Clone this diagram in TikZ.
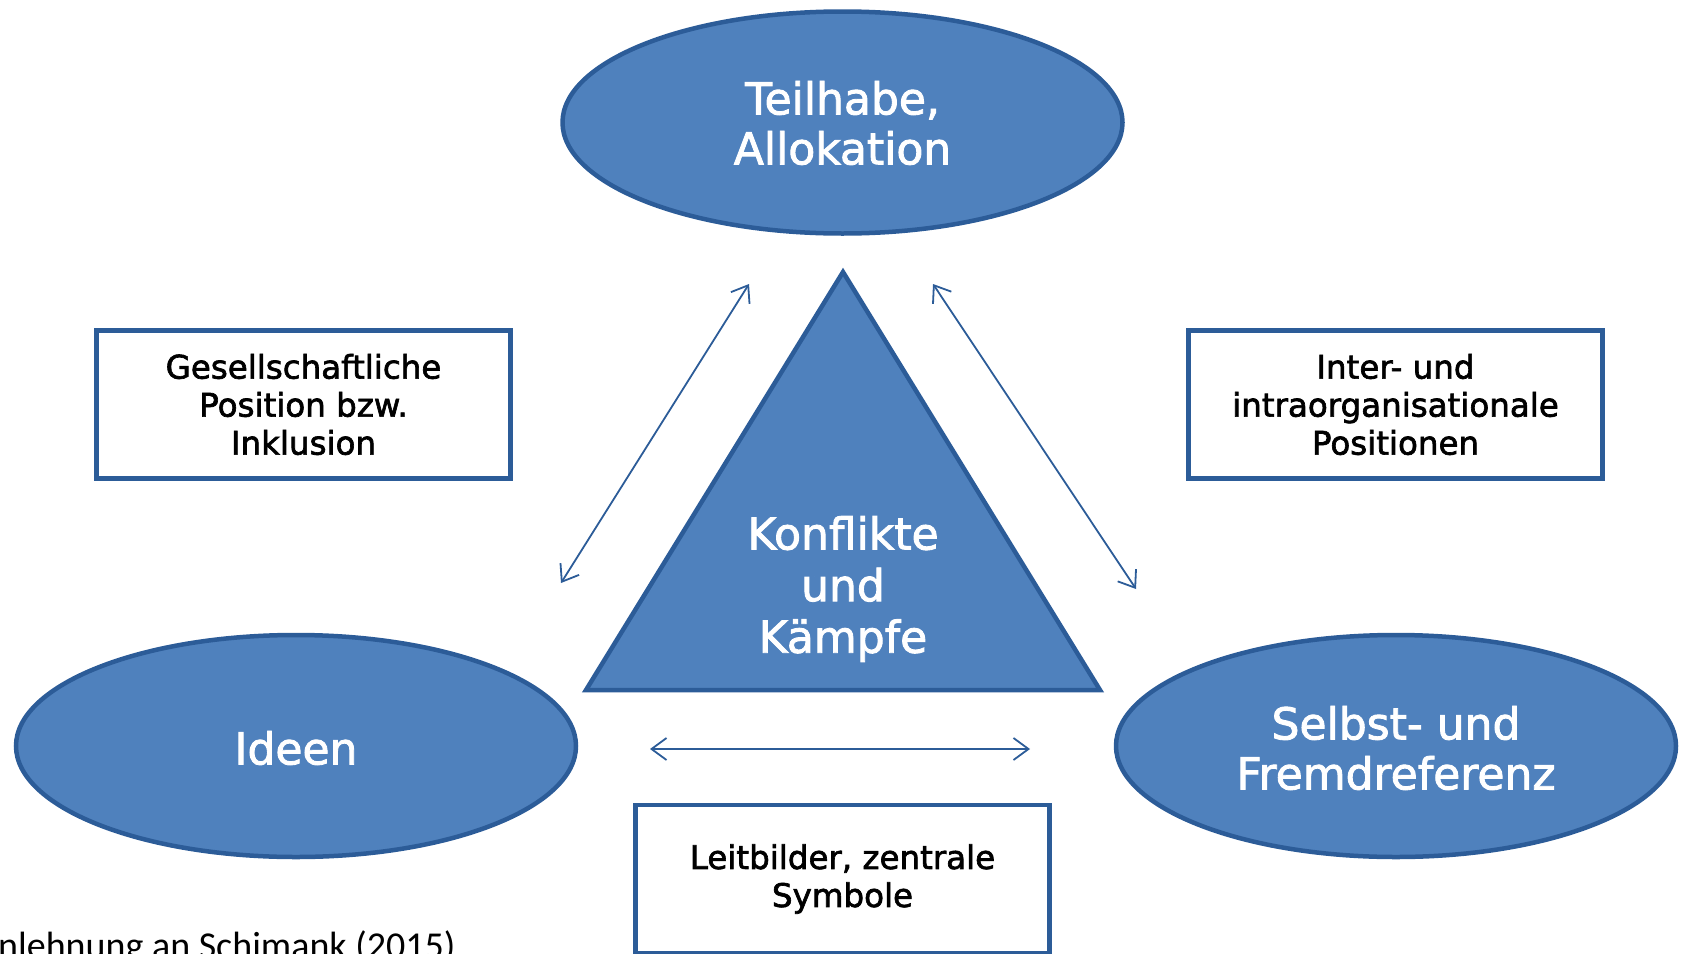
\documentclass[tikz,border=0pt]{standalone}
\usepackage{fontspec}
\setmainfont{DejaVu Sans}[FakeBold=2]
\newfontfamily\notefont{Carlito}
\usetikzlibrary{arrows.meta}
\definecolor{shapefill}{HTML}{4F81BD}
\definecolor{shapeline}{HTML}{2C5C98}
\tikzset{
  x=1pt, y=-1pt,
  blob/.style={draw=shapeline, fill=shapefill, line width=4.5pt},
  bigtext/.style={text=white, align=center, font=\fontsize{44}{50}\selectfont},
  labelbox/.style={draw=shapeline, line width=4.5pt, fill=white, minimum width=414pt, minimum height=148pt, align=center, font=\fontsize{32.5}{38}\selectfont, inner sep=0pt},
  twoway/.style={draw=shapeline, line width=1.8pt, {Straight Barb[length=15pt,width=22pt,line width=1.8pt]}-{Straight Barb[length=15pt,width=22pt,line width=1.8pt]}}
}
\begin{document}
\begin{tikzpicture}
\useasboundingbox (0,0) rectangle (1686,953);
\clip (0,0) rectangle (1686,953);
% ellipses
\draw[blob] (842.5,122.5) ellipse [x radius=280, y radius=111];
\node[bigtext] (top) at (842.5,123) {Teilhabe,\\Allokation};
\draw[blob] (296,746) ellipse [x radius=280, y radius=111];
\node[bigtext] (ideen) at (296,748) {Ideen};
\draw[blob] (1396,746) ellipse [x radius=280, y radius=111];
\node[bigtext] (selbst) at (1396,748) {Selbst- und\\Fremdreferenz};
% triangle
\draw[blob, line join=miter] (843,272) -- (1100,690) -- (586,690) -- cycle;
\node[bigtext, font=\fontsize{44}{51.6}\selectfont] (konf) at (843,589) {Konflikte\\und\\Kämpfe};
% boxes
\node[labelbox] (lbox) at (303.5,404.5) {Gesellschaftliche\\Position bzw.\\Inklusion};
\node[labelbox] (rbox) at (1395.5,404.5) {Inter- und\\intraorganisationale\\Positionen};
\node[labelbox] (bbox) at (842.5,879) {Leitbilder, zentrale\\Symbole};
% arrows
\coordinate (la1) at (749,284);
\coordinate (la2) at (561,583);
\coordinate (ra1) at (933,284);
\coordinate (ra2) at (1136,589);
\coordinate (ha1) at (650,749);
\coordinate (ha2) at (1030,749);
\draw[twoway] (la1) -- (la2);
\draw[twoway] (ra1) -- (ra2);
\draw[twoway] (ha1) -- (ha2);
% source note
\node[anchor=base west, inner sep=0pt, font=\notefont\fontsize{38}{44}\selectfont] (note) at (-2,958) {nlehnung an Schimank (2015)};
\end{tikzpicture}
\end{document}
